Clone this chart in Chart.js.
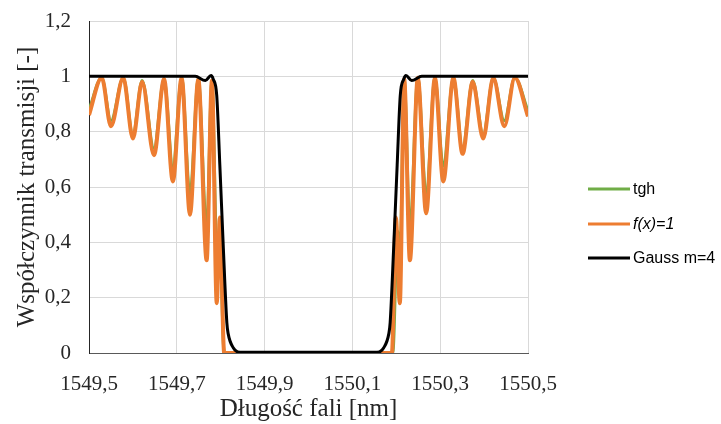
<!DOCTYPE html>
<html lang="pl">
<head>
<meta charset="utf-8">
<title>Współczynnik transmisji</title>
<script src="https://cdn.jsdelivr.net/npm/chart.js@4.4.1/dist/chart.umd.min.js"></script>
<style>
  html, body { margin: 0; padding: 0; background: #fff; }
  #wrap { position: relative; width: 721px; height: 424px; }
</style>
</head>
<body>
<div id="wrap"><canvas id="chart" width="721" height="424"></canvas></div>
<script>
const xTicks = [1549.5, 1549.7, 1549.9, 1550.1, 1550.3, 1550.5];
const yTicks = [0, 0.2, 0.4, 0.6, 0.8, 1, 1.2];

// tgh apodization
const tghLambda = [1549.500, 1549.529, 1549.550, 1549.578, 1549.600, 1549.621, 1549.648, 1549.671,
  1549.691, 1549.711, 1549.730, 1549.749, 1549.768, 1549.780, 1549.791, 1549.797, 1549.808,
  1549.850, 1550.000, 1550.150, 1550.192,
  1550.203, 1550.209, 1550.218, 1550.231, 1550.249, 1550.268, 1550.288, 1550.307, 1550.330,
  1550.351, 1550.374, 1550.398, 1550.421, 1550.446, 1550.470, 1550.500];
const tghT = [0.88, 0.995, 0.84, 0.995, 0.79, 0.985, 0.74, 0.99,
  0.675, 0.995, 0.575, 0.99, 0.45, 0.985, 0.40, 0.44, 0,
  0, 0, 0, 0,
  0.44, 0.40, 0.99, 0.45, 0.995, 0.575, 0.995, 0.675, 0.995,
  0.74, 0.985, 0.79, 0.995, 0.84, 0.995, 0.875];

// f(x)=1 (no apodization)
const fxLambda = [1549.500, 1549.529, 1549.550, 1549.578, 1549.600, 1549.621, 1549.648, 1549.671,
  1549.691, 1549.711, 1549.730, 1549.749, 1549.768, 1549.780, 1549.791, 1549.798, 1549.808,
  1549.850, 1550.000, 1550.150, 1550.190,
  1550.199, 1550.208, 1550.218, 1550.231, 1550.249, 1550.268, 1550.288, 1550.307, 1550.330,
  1550.351, 1550.374, 1550.398, 1550.421, 1550.446, 1550.470, 1550.500];
const fxT = [0.86, 0.995, 0.82, 0.995, 0.775, 0.98, 0.715, 0.99,
  0.62, 0.995, 0.50, 0.99, 0.335, 0.985, 0.18, 0.49, 0,
  0, 0, 0, 0,
  0.49, 0.18, 0.99, 0.335, 0.995, 0.505, 0.995, 0.62, 0.995,
  0.72, 0.98, 0.775, 0.995, 0.82, 0.995, 0.855];

// Gauss m=4
const gaussLambda = [1549.500, 1549.742, 1549.765, 1549.778, 1549.783, 1549.791, 1549.798, 1549.806,
  1549.814, 1549.817, 1549.829, 1549.839, 1549.850, 1550.000, 1550.150,
  1550.161, 1550.171, 1550.183, 1550.186, 1550.194, 1550.202, 1550.209, 1550.217, 1550.222,
  1550.235, 1550.258, 1550.500];
const gaussT = [1, 1, 0.985, 1.003, 0.99, 0.93, 0.68, 0.38,
  0.11, 0.07, 0.018, 0.004, 0.003, 0.003, 0.003,
  0.004, 0.018, 0.07, 0.11, 0.38, 0.68, 0.93, 0.99, 1.003,
  0.985, 1, 1];

const pairs = (xs, ys) => xs.map((x, i) => ({ x: x, y: ys[i] }));
const comma = (v) => String(Math.round(v * 10) / 10).replace('.', ',');

const serif = "'Liberation Serif', 'Times New Roman', serif";
const textColor = '#262626';

// legend drawn to the right of the plot, one row per series
const sideLegend = {
  id: 'sideLegend',
  afterDraw(chart) {
    const ctx = chart.ctx;
    const rowY = [189, 224, 258];
    ctx.save();
    chart.data.datasets.forEach((ds, i) => {
      const y = rowY[i];
      ctx.strokeStyle = ds.borderColor;
      ctx.lineWidth = 3;
      ctx.beginPath();
      ctx.moveTo(588, y);
      ctx.lineTo(630, y);
      ctx.stroke();
      ctx.fillStyle = '#000';
      ctx.font = (ds.italic ? 'italic ' : '') + "16px 'Liberation Sans', Arial, sans-serif";
      ctx.textBaseline = 'middle';
      ctx.textAlign = 'left';
      ctx.fillText(ds.label, 633, y + 1);
    });
    ctx.restore();
  }
};

new Chart(document.getElementById('chart'), {
  type: 'line',
  data: {
    datasets: [
      { label: 'tgh', data: pairs(tghLambda, tghT), borderColor: '#70AD47', borderWidth: 3, order: 3 },
      { label: 'f(x)=1', data: pairs(fxLambda, fxT), borderColor: '#ED7D31', borderWidth: 4, order: 2, italic: true },
      { label: 'Gauss m=4', data: pairs(gaussLambda, gaussT), borderColor: '#000000', borderWidth: 3, order: 1 }
    ]
  },
  options: {
    responsive: false,
    animation: false,
    layout: { padding: { top: 21, right: 193, left: 0, bottom: 0 } },
    elements: {
      point: { radius: 0, hoverRadius: 0 },
      line: { cubicInterpolationMode: 'monotone', fill: false }
    },
    datasets: { line: { clip: 0 } },
    plugins: { legend: { display: false }, tooltip: { enabled: false } },
    scales: {
      x: {
        type: 'linear',
        min: 1549.5,
        max: 1550.5,
        afterBuildTicks: (s) => { s.ticks = xTicks.map(v => ({ value: v })); },
        afterFit: (s) => { s.height = 71; s.paddingLeft = 0; s.paddingRight = 0; },
        grid: { color: '#d9d9d9', drawTicks: false },
        border: { color: '#595959', width: 1 },
        ticks: {
          padding: 19,
          color: textColor,
          font: { family: serif, size: 21 },
          maxRotation: 0,
          callback: (v) => comma(v)
        },
        title: {
          display: true,
          text: 'Długość fali [nm]',
          color: textColor,
          font: { family: serif, size: 25 },
          padding: { top: 0, bottom: 0 }
        }
      },
      y: {
        min: 0,
        max: 1.2,
        afterBuildTicks: (s) => { s.ticks = yTicks.map(v => ({ value: v })); },
        afterFit: (s) => { s.width = 89; s.paddingTop = 0; s.paddingBottom = 0; },
        grid: { color: '#d9d9d9', drawTicks: false },
        border: { color: '#262626', width: 1 },
        ticks: {
          padding: 18,
          color: textColor,
          font: { family: serif, size: 21 },
          callback: (v) => comma(v)
        },
        title: {
          display: true,
          text: 'Współczynnik transmisji [-]',
          color: textColor,
          font: { family: serif, size: 25 },
          padding: { top: 12, bottom: 0 }
        }
      }
    }
  },
  plugins: [sideLegend]
});
</script>
</body>
</html>
